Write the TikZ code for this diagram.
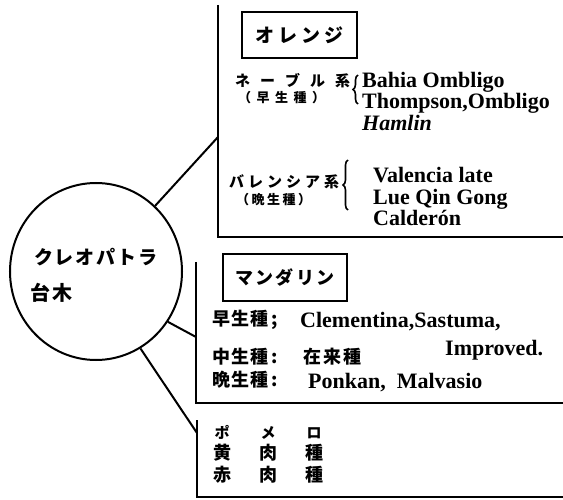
\documentclass[tikz,border=0pt]{standalone}
\usepackage{fontspec}
\setmainfont{Liberation Serif}
\newfontfamily\jp{Noto Sans CJK JP}
\usetikzlibrary{shapes.geometric,decorations.pathreplacing}
\makeatletter
\newcommand\jsp[2]{\def\jsp@gap{#1}\jsp@loop#2\relax}
\def\jsp@loop#1{\ifx\relax#1\kern-\jsp@gap\else#1\kern\jsp@gap\expandafter\jsp@loop\fi}
\makeatother
\newcommand\jpf[1]{\fontsize{#1}{#1}\selectfont\jp\bfseries}
\begin{document}
\begin{tikzpicture}[x=1pt,y=-1pt,
  frame/.style={line width=2.6pt},
  conn/.style={line width=2pt},
  tagbox/.style={draw,line width=2pt,inner sep=0pt},
  lat/.style={anchor=base west,inner sep=0pt,font=\fontsize{22}{22}\selectfont\bfseries},
  jpt/.style={anchor=west,inner sep=0pt},
  brc/.style={decorate,decoration={brace,amplitude=5pt},line width=1.6pt}]
\fill[white] (0,0) rectangle (563,500);
\useasboundingbox (0,0) rectangle (563,500);

% root circle
\node[ellipse,draw,line width=2pt,minimum width=172pt,minimum height=177pt,inner sep=0pt] (root) at (96,271.5) {};
\node[jpt,font=\jpf{19}] (rootA) at (34,257) {\jsp{1.8pt}{クレオパトラ}};
\node[jpt,font=\jpf{20}] (rootB) at (30,293) {\jsp{2pt}{台木}};

% orange bracket
\coordinate (oTop) at (218,5);
\coordinate (oCorner) at (218,237);
\coordinate (oEnd) at (563,237);
\coordinate (oJoin) at (218,137);
\draw[frame] (oTop) -- (oCorner) -- (oEnd);
\draw[conn] (root.48) -- (oJoin);

\node[tagbox,minimum width=115pt,minimum height=46pt,font=\jpf{19}] (orange) at (299.5,35) {\jsp{4pt}{オレンジ}};

\node[jpt,font=\jpf{15}] (navel) at (235,81) {\jsp{10pt}{ネーブル系}};
\node[jpt,font=\jpf{13}] (navelB) at (238,98) {\jsp{5.5pt}{（早生種）}};
\coordinate (b1a) at (358,104);
\coordinate (b1b) at (358,75);
\draw[brc] (b1a) -- (b1b);
\node[lat] (n1) at (362,87.5) {Bahia Ombligo};
\node[lat] (n2) at (362,109) {Thompson,Ombligo};
\node[lat,font=\fontsize{22}{22}\selectfont\bfseries\itshape] (n3) at (362,130.5) {Hamlin};

\node[jpt,font=\jpf{15}] (val) at (229,182) {\jsp{4pt}{バレンシア系}};
\node[jpt,font=\jpf{13}] (valB) at (236,199.5) {\jsp{2.5pt}{（晩生種）}};
\coordinate (b2a) at (348,210);
\coordinate (b2b) at (348,160);
\draw[brc] (b2a) -- (b2b);
\node[lat] (v1) at (373,182.5) {Valencia late};
\node[lat] (v2) at (373,204.5) {Lue Qin Gong};
\node[lat] (v3) at (373,225.5) {Calderón};

% mandarin bracket
\coordinate (mTop) at (196,262);
\coordinate (mCorner) at (196,403);
\coordinate (mEnd) at (563,403);
\coordinate (mJoin) at (196,337);
\draw[frame] (mTop) -- (mCorner) -- (mEnd);
\draw[conn] (root.-35) -- (mJoin);

\node[tagbox,minimum width=124pt,minimum height=47pt,font=\jpf{18}] (mand) at (285,277.5) {\jsp{2.5pt}{マンダリン}};

\node[jpt,font=\jpf{18}] (early) at (212,320) {\jsp{1pt}{早生種}\,;};
\node[lat] (m1) at (300,327.5) {Clementina,Sastuma,};
\node[lat] (m2) at (445,355.5) {Improved.};
\node[jpt,font=\jpf{18}] (mid) at (212,357) {\jsp{1pt}{中生種}\,:};
\node[jpt,font=\jpf{18}] (m3) at (303,357) {\jsp{2pt}{在来種}};
\node[jpt,font=\jpf{18}] (late) at (212,380) {\jsp{1pt}{晩生種}\,:};
\node[lat] (m4) at (308,388) {Ponkan,\hspace{0.5em}Malvasio};

% pomelo bracket
\coordinate (pTop) at (197,420);
\coordinate (pCorner) at (197,497);
\coordinate (pEnd) at (563,497);
\coordinate (pJoin) at (197,433);
\draw[frame] (pTop) -- (pCorner) -- (pEnd);
\draw[conn] (root.-60) -- (pJoin);

\node[jpt,font=\jpf{15}] (p1) at (214.5,432) {ポ\kern31ptメ\kern31ptロ};
\node[jpt,font=\jpf{18}] (p2) at (213,453) {黄\kern28pt肉\kern28pt種};
\node[jpt,font=\jpf{18}] (p3) at (213,475) {赤\kern28pt肉\kern28pt種};
\end{tikzpicture}
\end{document}
